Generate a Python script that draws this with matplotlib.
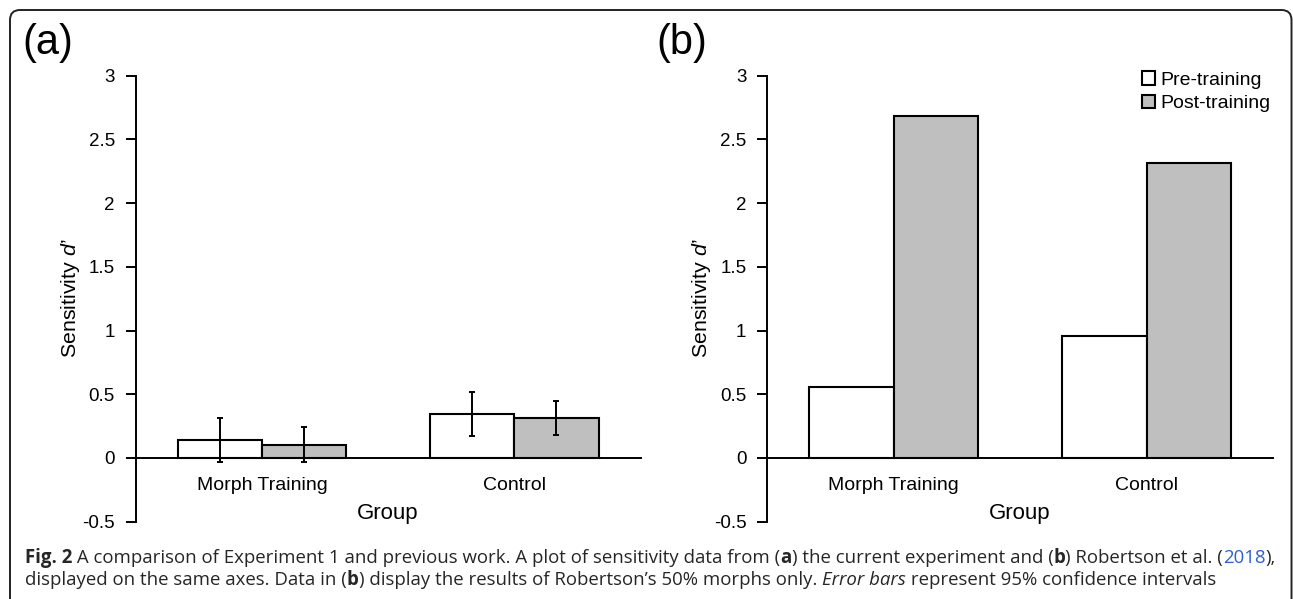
import numpy as np
import matplotlib
matplotlib.use("Agg")
import matplotlib.pyplot as plt
from matplotlib.patches import FancyBboxPatch, Patch
from matplotlib.transforms import IdentityTransform

plt.rcParams['font.family'] = ['Liberation Sans', 'DejaVu Sans']
plt.rcParams['axes.unicode_minus'] = False
plt.rcParams['mathtext.fontset'] = 'custom'
plt.rcParams['mathtext.rm'] = 'Liberation Sans'
plt.rcParams['mathtext.it'] = 'Liberation Sans:italic'

# data
groups = ['Morph Training', 'Control']
series = ['Pre-training', 'Post-training']
exp1_pre = [0.14, 0.345]
exp1_post = [0.105, 0.315]
exp1_pre_ci = [0.175, 0.173]
exp1_post_ci = [0.135, 0.135]
rob_pre = [0.558, 0.956]
rob_post = [2.687, 2.315]
yticks = [-0.5, 0, 0.5, 1, 1.5, 2, 2.5, 3]
ytick_labels = ['-0.5', '0', '0.5', '1', '1.5', '2', '2.5', '3']

W, H = 1293, 599
fig = plt.figure(figsize=(W / 100, H / 100), dpi=100)

# rounded frame around the whole figure (bottom edge runs off the image)
frame = FancyBboxPatch((10, -40), 1281.5, H - 10 + 40, boxstyle="round,pad=0,rounding_size=10",
                       transform=IdentityTransform(), fill=False, edgecolor='#222222', linewidth=1.4)
fig.patches.append(frame)

ax1 = fig.add_axes([135.7 / W, 1 - 521.7 / H, 504.9 / W, 446 / H])
ax2 = fig.add_axes([767.3 / W, 1 - 521.7 / H, 505.7 / W, 446 / H])

x = np.arange(len(groups))
bw = 1 / 3
err_kw = dict(ecolor='black', elinewidth=1.4, capsize=2.0, capthick=1.4)

ax1.bar(x - bw / 2, exp1_pre, bw, color='white', edgecolor='black', linewidth=1.5,
        yerr=exp1_pre_ci, error_kw=err_kw, label=series[0])
ax1.bar(x + bw / 2, exp1_post, bw, color='#bfbfbf', edgecolor='black', linewidth=1.5,
        yerr=exp1_post_ci, error_kw=err_kw, label=series[1])

ax2.bar(x - bw / 2, rob_pre, bw, color='white', edgecolor='black', linewidth=1.5, label=series[0])
ax2.bar(x + bw / 2, rob_post, bw, color='#bfbfbf', edgecolor='black', linewidth=1.5, label=series[1])

for ax in (ax1, ax2):
    ax.set_xlim(-0.5, 1.5)
    ax.set_ylim(-0.5, 3)
    ax.set_yticks(yticks)
    ax.set_yticklabels(ytick_labels)
    ax.set_xticks(x)
    ax.set_xticklabels(groups)
    ax.tick_params(axis='x', length=0, pad=14, labelsize=14)
    ax.tick_params(axis='y', length=7, width=1.4, pad=8, labelsize=13.5)
    ax.spines['top'].set_visible(False)
    ax.spines['right'].set_visible(False)
    ax.spines['bottom'].set_position(('data', 0))
    ax.spines['left'].set_linewidth(1.4)
    ax.spines['bottom'].set_linewidth(1.4)
    ax.set_facecolor('none')
    ax.set_xlabel('Group', fontsize=16)
    ax.xaxis.set_label_coords(0.5, 0.005)
    ax.xaxis.label.set_verticalalignment('baseline')
    ax.set_ylabel('Sensitivity $d$’', fontsize=15.4)
    ax.yaxis.set_label_coords(-65.7 / 505, 0.5)
    ax.yaxis.label.set_verticalalignment('center')

ax2.legend(handles=[Patch(facecolor='white', edgecolor='black', linewidth=1.5),
                    Patch(facecolor='#bfbfbf', edgecolor='black', linewidth=1.5)],
           labels=series, loc='upper left', bbox_to_anchor=(0.740, 1.01), frameon=False,
           fontsize=14, handlelength=0.68, handleheight=0.68, handletextpad=0.28,
           labelspacing=0.3, borderpad=0, borderaxespad=0)

fig.text(22 / W, 1 - 54 / H, '(a)', fontsize=30, va='baseline', ha='left')
fig.text(656 / W, 1 - 54 / H, '(b)', fontsize=30, va='baseline', ha='left')

# caption, written run by run so bold / italic / blue parts line up
cap_font = ['Open Sans', 'DejaVu Sans']
cap_size = 13.4
cap_col = '#262626'
line1 = [("Fig. 2", 'bold', 'normal', cap_col),
         (" A comparison of Experiment 1 and previous work. A plot of sensitivity data from (", 'normal', 'normal', cap_col),
         ("a", 'bold', 'normal', cap_col),
         (") the current experiment and (", 'normal', 'normal', cap_col),
         ("b", 'bold', 'normal', cap_col),
         (") Robertson et al. (", 'normal', 'normal', cap_col),
         ("2018", 'normal', 'normal', '#2f5fd0'),
         ("),", 'normal', 'normal', cap_col)]
line2 = [("displayed on the same axes. Data in (", 'normal', 'normal', cap_col),
         ("b", 'bold', 'normal', cap_col),
         (") display the results of Robertson’s 50% morphs only. ", 'normal', 'normal', cap_col),
         ("Error bars", 'normal', 'italic', cap_col),
         (" represent 95% confidence intervals", 'normal', 'normal', cap_col)]

renderer = fig.canvas.get_renderer()


def run_width(s, weight, style):
    t1 = fig.text(0, 0, "|" + s + "|", family=cap_font, fontsize=cap_size, weight=weight, style=style)
    t2 = fig.text(0, 0, "||", family=cap_font, fontsize=cap_size, weight=weight, style=style)
    w = t1.get_window_extent(renderer).width - t2.get_window_extent(renderer).width
    t1.remove()
    t2.remove()
    return w


for runs, base_y in [(line1, 563), (line2, 585)]:
    px = 25
    for s, weight, style, col in runs:
        fig.text(px / W, 1 - base_y / H, s, family=cap_font, fontsize=cap_size, weight=weight,
                 style=style, color=col, va='baseline', ha='left')
        px += run_width(s, weight, style)

fig.savefig('out.png', dpi=100)
